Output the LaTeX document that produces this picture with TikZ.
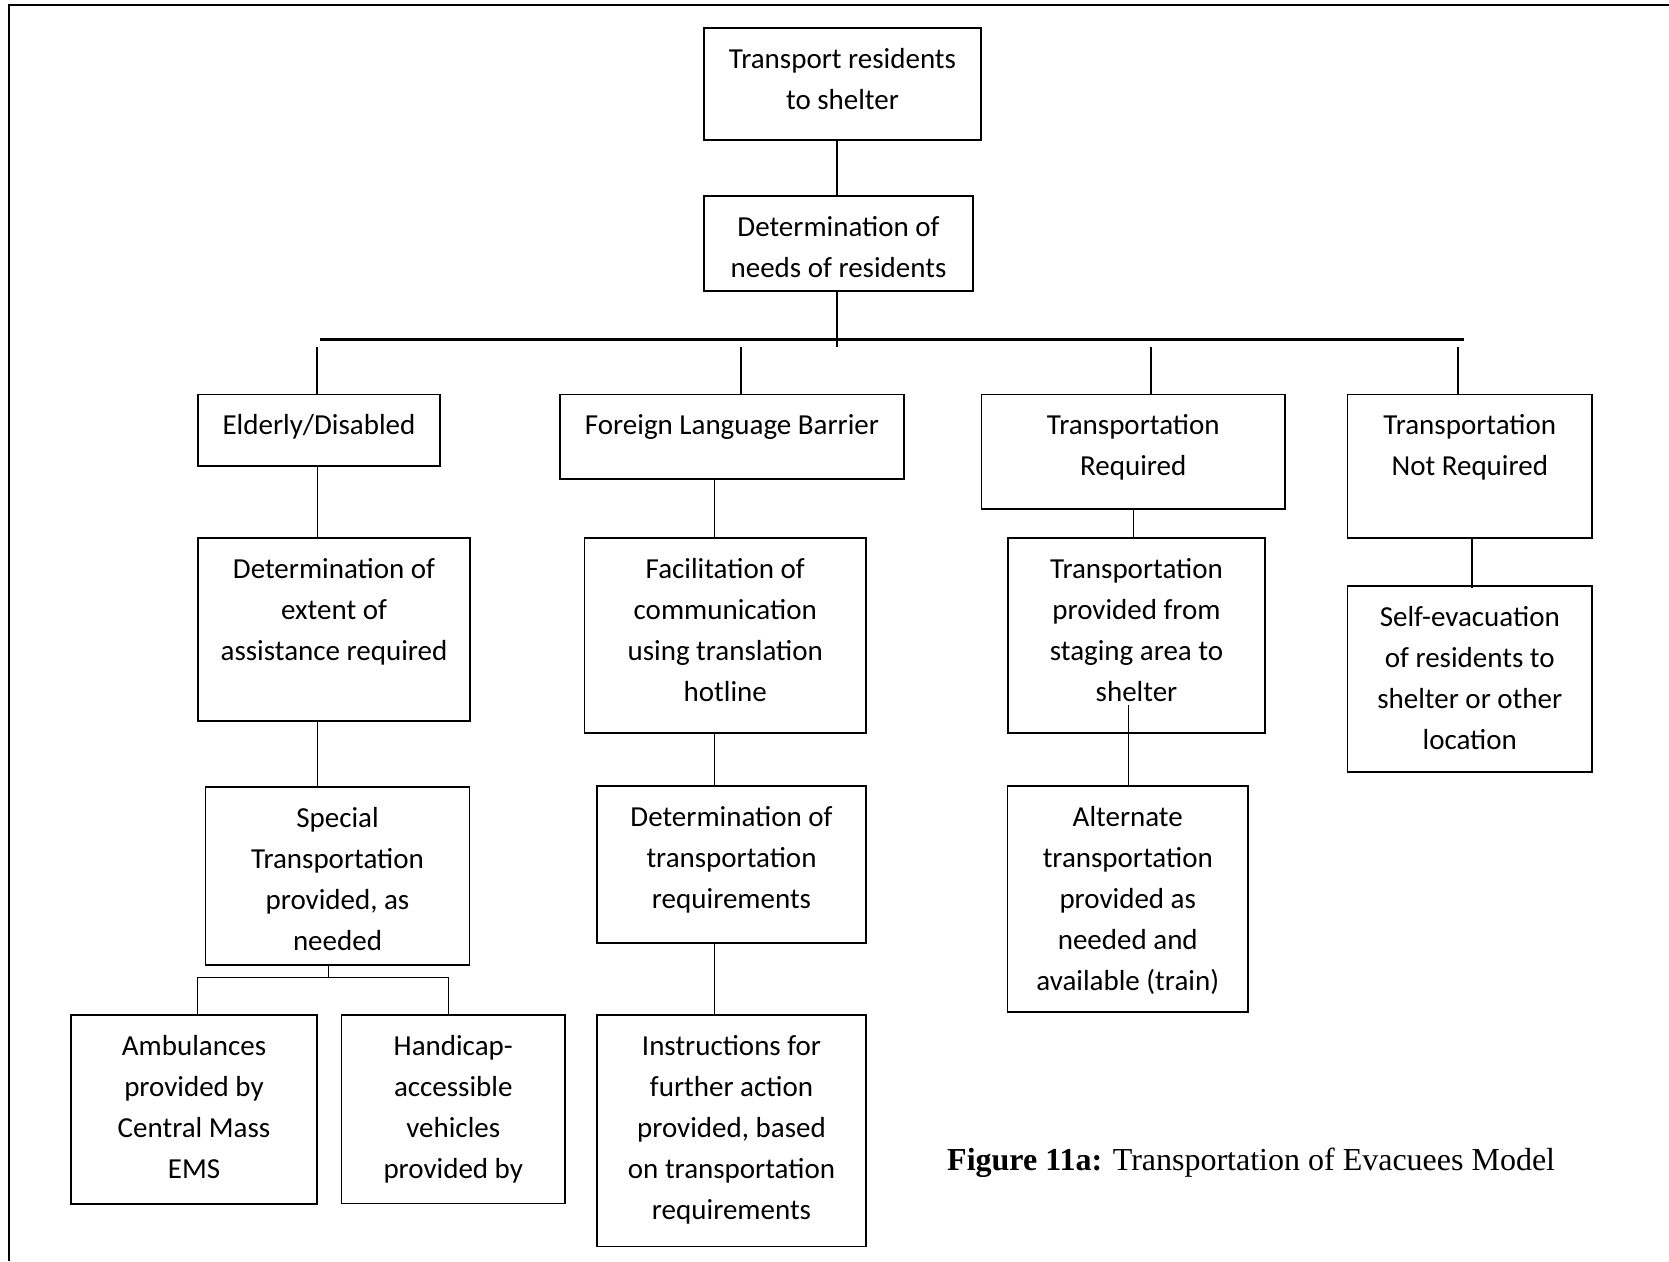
\documentclass[tikz,border=0pt]{standalone}
\usepackage{fontspec}
\setmainfont{Carlito}
\newfontfamily\captionfont{Liberation Serif}

% A box from (x1,y1) to (x2,y2), text set from the top
% #1 name, #2 x1, #3 y1, #4 x2, #5 y2, #6 text
\newcommand\flowbox[6]{%
  \node[box, minimum width={#4-#2}, minimum height={#5-#3}] (#1) at ({(#2+#4)/2},{(#3+#5)/2}) {};
  \node[boxtext] (#1-text) at ([yshift=-15pt]#1.north) {\rule{0pt}{25pt}#6};
}

\begin{document}
\begin{tikzpicture}[x=1pt, y=-1pt,
  box/.style={draw, line width=1.8pt, inner sep=0pt, outer sep=0pt},
  boxtext/.style={align=center, inner sep=0pt, anchor=north,
    font=\fontsize{29}{41}\selectfont},
  link/.style={line width=1.3pt},
  bus/.style={line width=2.5pt},
  frame/.style={line width=2pt},
]
\useasboundingbox (0,0) rectangle (1669,1261);

% page frame
\coordinate (frameTR) at (1669,5);
\coordinate (frameTL) at (9,5);
\coordinate (frameBL) at (9,1261);
\draw[frame] (frameTR) -- (frameTL) -- (frameBL);

% boxes
\flowbox{top}{704}{28}{981}{140}{Transport residents\\to shelter}
\flowbox{needs}{704}{196}{973}{291}{Determination of\\needs of residents}

\flowbox{eld}{198}{394.5}{440}{466}{Elderly/Disabled}
\flowbox{flb}{560}{394.5}{904}{479}{Foreign Language Barrier}
\flowbox{treq}{981.5}{394.5}{1285}{509}{Transportation\\Required}
\flowbox{tnr}{1347.5}{394.5}{1592}{538}{Transportation\\Not Required}

\flowbox{detx}{198}{538}{470}{721}{Determination of\\extent of\\assistance required}
\flowbox{fac}{584.5}{538}{866}{733}{Facilitation of\\communication\\using translation\\hotline}
\flowbox{tprov}{1008}{538}{1265}{733}{Transportation\\provided from\\staging area to\\shelter}
\flowbox{self}{1347.5}{586}{1592}{772}{Self-evacuation\\of residents to\\shelter or other\\location}

\flowbox{spec}{205.5}{787}{469.5}{965}{Special\\Transportation\\provided, as\\needed}
\flowbox{dett}{597}{786}{866}{943}{Determination of\\transportation\\requirements}
\flowbox{alt}{1007.5}{786}{1248}{1012}{Alternate\\transportation\\provided as\\needed and\\available (train)}

\flowbox{amb}{71}{1015}{317}{1204}{Ambulances\\provided by\\Central Mass\\EMS}
\flowbox{hcap}{341.5}{1015}{565}{1203.5}{Handicap-\\accessible\\vehicles\\provided by}
\flowbox{instr}{597}{1015}{866}{1246.5}{Instructions for\\further action\\provided, based\\on transportation\\requirements}

% trunk from the top down to the distributor bar
\coordinate (trunk) at (837,347);
\draw[link] (top.south -| trunk) -- (needs.north -| trunk);
\draw[link] (needs.south -| trunk) -- (trunk);

% distributor bar
\coordinate (busL) at (320,339.5);
\coordinate (busR) at (1464,339.5);
\draw[bus] (busL) -- (busR);

% drops to the four categories
\coordinate (dropA) at (317,347);
\coordinate (dropB) at (741,347);
\coordinate (dropC) at (1151,347);
\coordinate (dropD) at (1458,347);
\draw[link] (dropA) -- (dropA |- eld.north);
\draw[link] (dropB) -- (dropB |- flb.north);
\draw[link] (dropC) -- (dropC |- treq.north);
\draw[link] (dropD) -- (dropD |- tnr.north);

% elderly / disabled column
\coordinate (colA) at (317.5,0);
\draw[link] (eld.south -| colA) -- (detx.north -| colA);
\draw[link] (detx.south -| colA) -- (spec.north -| colA);
\coordinate (splitA) at (328.5,977.5);
\draw[link] (spec.south -| splitA) -- (splitA);
\coordinate (ambTop) at (197.5,1015);
\coordinate (hcapTop) at (448.5,1015);
\draw[link] (ambTop) -- (ambTop |- splitA) -- (hcapTop |- splitA) -- (hcapTop);

% foreign language column
\coordinate (colB) at (714.5,0);
\draw[link] (flb.south -| colB) -- (fac.north -| colB);
\draw[link] (fac.south -| colB) -- (dett.north -| colB);
\draw[link] (dett.south -| colB) -- (instr.north -| colB);

% transportation required column
\draw[link] (treq.south) -- (treq.south |- tprov.north);
\coordinate (altLink) at (1128.5,704.5);
\draw[link] (altLink) -- (altLink |- alt.north);

% transportation not required column
\coordinate (colD) at (1472,588);
\draw[link] (tnr.south -| colD) -- (colD);

% caption
\node[anchor=base west, inner sep=0pt,
  font=\captionfont\fontsize{32}{38}\selectfont] (caption) at (947,1170)
  {\textbf{Figure 11a:} Transportation of Evacuees Model};
\end{tikzpicture}
\end{document}
